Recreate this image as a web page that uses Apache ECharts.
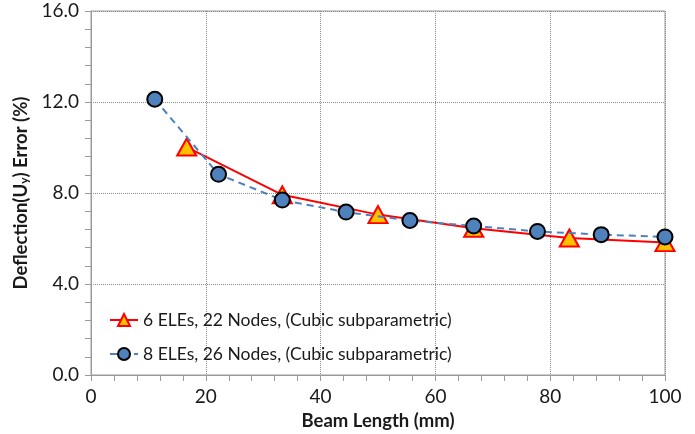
<!DOCTYPE html>
<html>
<head>
<meta charset="utf-8">
<script src="https://cdn.jsdelivr.net/npm/echarts@6/dist/echarts.min.js"></script>
<style>
  html, body { margin: 0; padding: 0; background: #fff; }
  #chart { width: 695px; height: 434px; }
</style>
</head>
<body>
<div id="chart"></div>
<script>
// 6 elements, 22 nodes
var cubicSix_x = [16.67, 33.33, 50, 66.67, 83.33, 100];
var cubicSix_y = [10.02, 7.92, 7.05, 6.45, 6.02, 5.82];
// 8 elements, 26 nodes
var cubicEight_x = [11.11, 22.22, 33.33, 44.44, 55.56, 66.67, 77.78, 88.89, 100];
var cubicEight_y = [12.12, 8.82, 7.69, 7.16, 6.79, 6.55, 6.31, 6.17, 6.07];

var seriesNames = [
  '6 ELEs, 22 Nodes, (Cubic subparametric)',
  '8 ELEs, 26 Nodes, (Cubic subparametric)'
];

function pairs(xs, ys) {
  return xs.map(function (x, i) { return [x, ys[i]]; });
}

var font = 'Lato, "Open Sans", sans-serif';
var grey = '#9a9a9a';
var ink = '#1a1a1a';

var myChart = echarts.init(document.getElementById('chart'));
myChart.setOption({
  backgroundColor: '#fff',
  animation: false,
  textStyle: { fontFamily: font, color: ink },
  grid: {
    left: 91, right: 30, top: 11, bottom: 59,
    outerBoundsMode: 'none',
    containLabel: false,
    show: true, borderColor: grey, borderWidth: 1
  },
  legend: {
    orient: 'vertical',
    left: 104,
    top: 306,
    itemGap: 16,
    itemWidth: 28,
    itemHeight: 15,
    textStyle: { fontFamily: font, fontSize: 17.5, color: ink },
    data: seriesNames
  },
  xAxis: {
    type: 'value',
    min: 0, max: 100, interval: 20,
    name: 'Beam Length (mm)',
    nameLocation: 'middle',
    nameGap: 37,
    nameTextStyle: { fontFamily: font, fontSize: 18.5, fontWeight: 'bold', color: ink },
    axisLine: { show: true, lineStyle: { color: grey } },
    axisTick: { show: true, length: 6, lineStyle: { color: grey } },
    minorTick: { show: true, splitNumber: 5, length: 6, lineStyle: { color: grey } },
    axisLabel: { fontSize: 19, color: ink, margin: 12 },
    splitLine: { show: true, lineStyle: { color: '#8c8c8c', type: 'dotted', width: 1 } }
  },
  yAxis: {
    type: 'value',
    min: 0, max: 16, interval: 4,
    name: '{b|Deflection(U}{s|y}{b|) Error (%)}',
    nameLocation: 'middle',
    nameGap: 54,
    nameTextStyle: {
      rich: {
        b: { fontFamily: font, fontSize: 18.5, fontWeight: 'bold', color: ink },
        s: { fontFamily: font, fontSize: 12, fontWeight: 'bold', color: ink, verticalAlign: 'bottom', padding: [7, 0, 0, 0] }
      }
    },
    axisLine: { show: true, lineStyle: { color: grey } },
    axisTick: { show: true, length: 6, lineStyle: { color: grey } },
    minorTick: { show: true, splitNumber: 5, length: 6, lineStyle: { color: grey } },
    axisLabel: {
      fontSize: 19, color: ink, margin: 12,
      formatter: function (v) { return v.toFixed(1); }
    },
    splitLine: { show: true, lineStyle: { color: '#8c8c8c', type: 'dotted', width: 1 } }
  },
  series: [{
    name: seriesNames[0],
    type: 'line',
    data: pairs(cubicSix_x, cubicSix_y),
    symbol: 'triangle',
    symbolSize: [19, 17],
    lineStyle: { color: '#ff0000', width: 2 },
    itemStyle: { color: '#ffc000', borderColor: '#ff0000', borderWidth: 2 },
    z: 2
  }, {
    name: seriesNames[1],
    type: 'line',
    data: pairs(cubicEight_x, cubicEight_y),
    symbol: 'circle',
    symbolSize: 15,
    lineStyle: { color: '#4f81bd', width: 2, type: [7, 5] },
    itemStyle: { color: '#4f81bd', borderColor: '#000', borderWidth: 2 },
    z: 3
  }]
});
</script>
</body>
</html>
